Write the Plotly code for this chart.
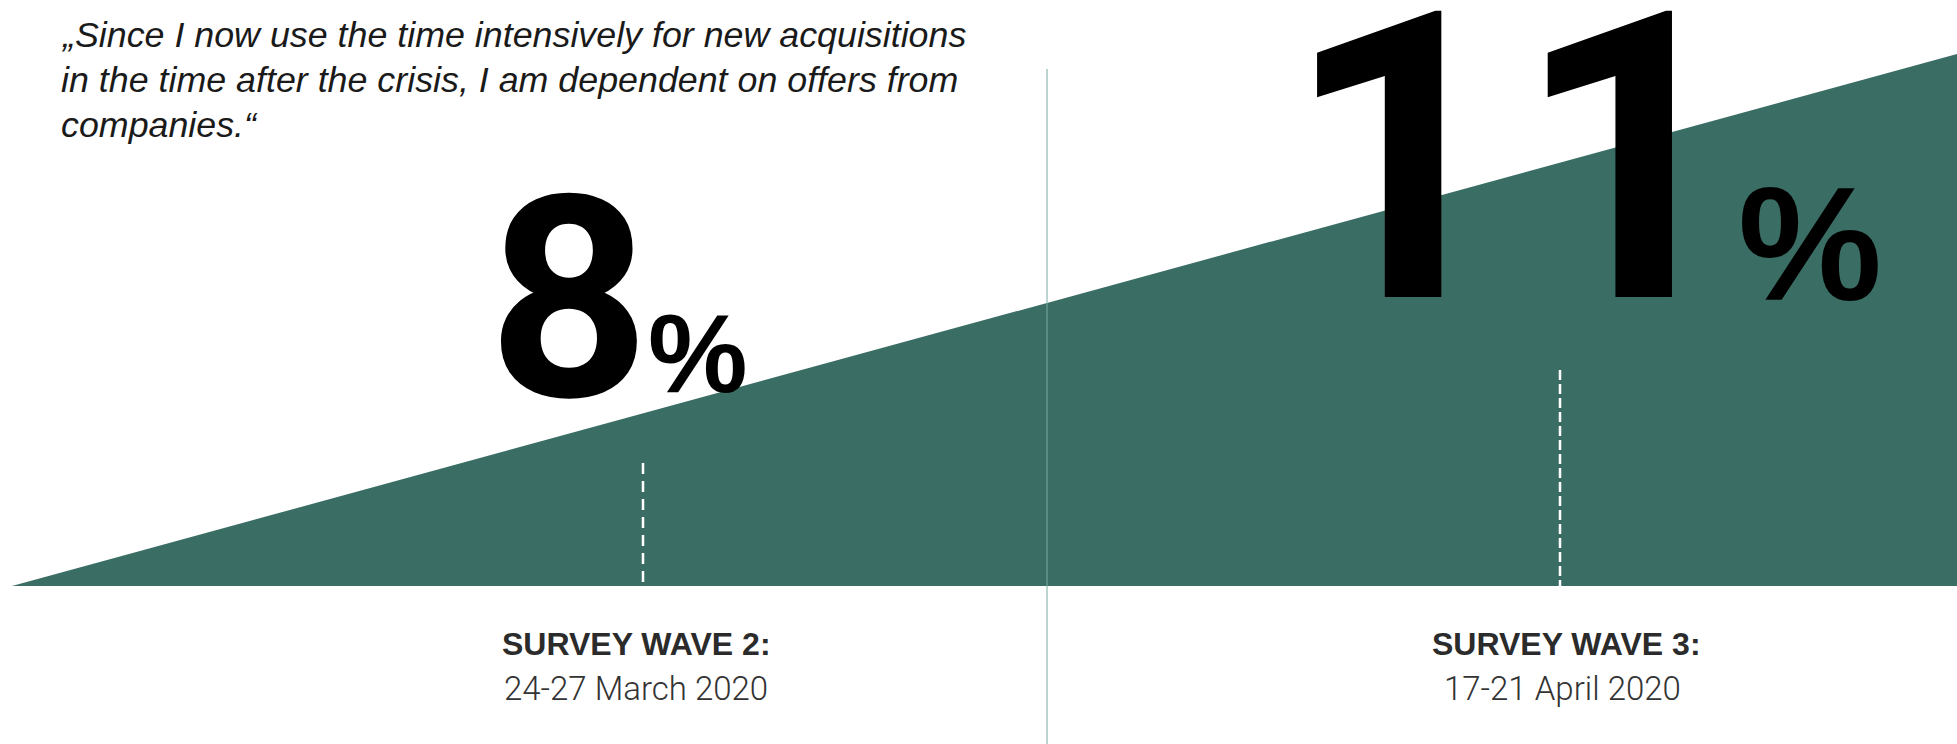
import plotly.graph_objects as go

# ---------------- data ----------------
quote_lines = [
    "„Since I now use the time intensively for new acquisitions",
    "in the time after the crisis, I am dependent on offers from",
    "companies.“",
]
wave_numbers = [2, 3]
wave_titles = ["SURVEY WAVE 2:", "SURVEY WAVE 3:"]
wave_dates = ["24-27 March 2020", "17-21 April 2020"]
share_pct = [8, 11]
trend_wave = [1.3119, 3.43293]     # wedge start / end (wave units)
trend_level = [0, 100]             # wedge height at start / end
marker_level = [23.1, 40.6]        # dashed marker heights
divider_wave = 2.4406

# ---------------- layout constants ----------------
W, H = 1957, 744
X_RANGE = [1.29880, 3.43293]
Y_RANGE = [-29.70, 110.15]
TEAL = "#3a6e65"
TEXT = "#2b2b2b"
TITLE_X = [636, 1566]
DATE_X = [636, 1562]


def px(x):
    return x / W


def py(y):
    return 1 - y / H


fig = go.Figure()

# wedge (area rising from left to right)
fig.add_trace(go.Scatter(
    x=[trend_wave[0], trend_wave[1], trend_wave[1], trend_wave[0]],
    y=[trend_level[0], trend_level[1], 0, 0],
    fill="toself", fillcolor=TEAL, mode="lines",
    line=dict(width=0, color=TEAL), hoverinfo="skip", showlegend=False,
))

# dashed markers at each survey wave
dashes = ["11px,7px", "10px,4px"]
for w, lvl, d in zip(wave_numbers, marker_level, dashes):
    fig.add_trace(go.Scatter(
        x=[w, w], y=[lvl, 0], mode="lines",
        line=dict(color="white", width=2.5, dash=d),
        hoverinfo="skip", showlegend=False,
    ))

# divider between the two panels
fig.add_shape(type="line", xref="x", yref="paper",
              x0=divider_wave, x1=divider_wave, y0=0, y1=py(69),
              line=dict(color="#78ada3", width=1), layer="above")

ann = []
# quote
q_font = dict(family="Liberation Sans", size=35.8, color="#1a1a1a")
for i, line in enumerate(quote_lines):
    ann.append(dict(text=f"<i>{line}</i>", x=px(60), y=py(35 + 45 * i),
                    xref="paper", yref="paper", xanchor="left", yanchor="middle",
                    showarrow=False, font=q_font, borderpad=0))

# big percentages
num_font = dict(family="Roboto", color="#000000", weight=700)
pct_font = dict(family="Liberation Sans", color="#000000", weight=700)
ann.append(dict(text=f"{share_pct[0]}", x=px(569), y=py(299),
                xref="paper", yref="paper", xanchor="center", yanchor="middle",
                showarrow=False, font=dict(**num_font, size=282), borderpad=0))
ann.append(dict(text="%", x=px(698), y=py(353),
                xref="paper", yref="paper", xanchor="center", yanchor="middle",
                showarrow=False, font=dict(**pct_font, size=112), borderpad=0))
ann.append(dict(text=f"{share_pct[1]}", x=px(1514), y=py(159.5),
                xref="paper", yref="paper", xanchor="center", yanchor="middle",
                showarrow=False, font=dict(**num_font, size=402), borderpad=0))
ann.append(dict(text="%", x=px(1810), y=py(243.5),
                xref="paper", yref="paper", xanchor="center", yanchor="middle",
                showarrow=False, font=dict(**pct_font, size=162), borderpad=0))

# wave labels
for tx, dx, t, d in zip(TITLE_X, DATE_X, wave_titles, wave_dates):
    ann.append(dict(text=t, x=px(tx), y=py(644), xref="paper", yref="paper",
                    xanchor="center", yanchor="middle", showarrow=False,
                    font=dict(family="Liberation Sans", size=32, color=TEXT, weight=700),
                    borderpad=0))
    ann.append(dict(text=d, x=px(dx), y=py(688), xref="paper", yref="paper",
                    xanchor="center", yanchor="middle", showarrow=False,
                    font=dict(family="Roboto", size=33, color="#333333", weight=300),
                    borderpad=0))

fig.update_layout(
    width=W, height=H, margin=dict(l=0, r=0, t=0, b=0),
    paper_bgcolor="white", plot_bgcolor="white",
    xaxis=dict(range=X_RANGE, visible=False, fixedrange=True),
    yaxis=dict(range=Y_RANGE, visible=False, fixedrange=True),
    annotations=ann, showlegend=False,
)

fig.write_html("out.html", config={"displayModeBar": False})
